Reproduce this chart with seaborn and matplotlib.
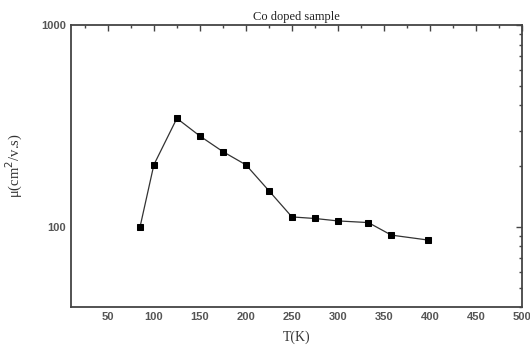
import matplotlib
matplotlib.use("Agg")
import matplotlib.pyplot as plt
import matplotlib.ticker as mticker
import pandas as pd
import seaborn as sns

# values
temp_k = [85, 100, 125, 150, 175, 200, 225, 250, 275, 300, 333, 358, 398]
mobility = [100, 203, 345, 282, 236, 203, 151, 112, 110, 107, 105, 91, 86]
x_ticks = [50, 100, 150, 200, 250, 300, 350, 400, 450, 500]
y_ticks = [100, 1000]

df = pd.DataFrame({"T": temp_k, "mu": mobility})

sns.set_style("white")
plt.rcParams["font.family"] = ["Liberation Sans", "DejaVu Sans"]

fig = plt.figure(figsize=(5.3, 3.49), dpi=100)
ax = fig.add_axes([0.134, 0.120, 0.851, 0.808])

sns.lineplot(data=df, x="T", y="mu", ax=ax, color="#333333", linewidth=0.9,
             marker="s", markersize=5, markerfacecolor="black",
             markeredgecolor="black")

ax.set_yscale("log")
ax.set_xlim(10, 500)
ax.set_ylim(40, 1000)
ax.set_xticks(x_ticks)
ax.set_yticks(y_ticks)
ax.xaxis.set_minor_locator(mticker.MultipleLocator(25))
ax.yaxis.set_major_formatter(mticker.FuncFormatter(lambda v, p: f"{v:.0f}"))
ax.yaxis.set_minor_formatter(mticker.NullFormatter())

ax.tick_params(which="both", direction="in", top=True, right=True,
               colors="#444444", labelsize=8)
ax.tick_params(which="major", length=4, width=1)
ax.tick_params(which="minor", length=2, width=1)
for lab in ax.get_xticklabels() + ax.get_yticklabels():
    lab.set_fontweight("bold")
    lab.set_color("#555555")

for s in ax.spines.values():
    s.set_color("#444444")
    s.set_linewidth(1.3)

serif = ["Liberation Serif", "DejaVu Serif"]
ax.set_title("Co doped sample", family=serif, fontsize=9, pad=4, color="#222222")
ax.set_xlabel("T(K)", family=serif, fontsize=10, color="#333333", labelpad=6)
ax.set_ylabel("μ(cm$^2$/v.s)", family=serif, fontsize=10.5, color="#333333",
              labelpad=12)

fig.savefig("out.png", dpi=100)
